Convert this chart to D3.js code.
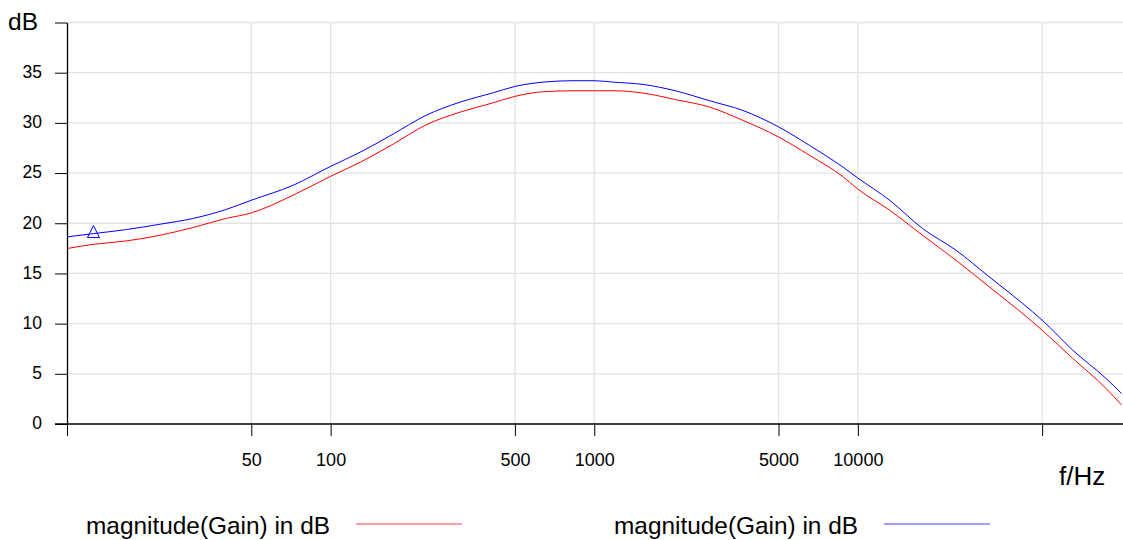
<!DOCTYPE html>
<html>
<head>
<meta charset="utf-8">
<script src="https://cdn.jsdelivr.net/npm/d3@7"></script>
<style>
  html, body { margin: 0; padding: 0; background: #fff; }
  svg { display: block; font-family: "Liberation Sans", Arial, sans-serif; }
</style>
</head>
<body>
<svg id="chart" width="1123" height="540"></svg>
<script>
// ---- data ----
const freqs = [10, 12.6, 16.8, 22.5, 30, 40, 50, 72, 100, 130, 173, 230, 310, 410, 500, 640, 830, 1000, 1180, 1530, 2050, 2740, 3660, 5000, 6550, 8770, 10000, 13200, 17600, 23600, 31500, 42200, 50000, 65300, 87300, 100000];
const gainRed = [17.48, 17.9, 18.24, 18.8, 19.57, 20.47, 21.03, 22.79, 24.68, 26.1, 27.9, 29.8, 31.07, 31.97, 32.64, 33.1, 33.2, 33.2, 33.2, 32.97, 32.3, 31.57, 30.25, 28.6, 26.77, 24.65, 23.4, 21.3, 18.8, 16.3, 13.66, 11.0, 9.35, 6.54, 3.55, 1.9];
const gainBlue = [18.64, 18.97, 19.37, 19.9, 20.47, 21.36, 22.29, 23.78, 25.67, 27.1, 28.9, 30.75, 32.07, 32.97, 33.63, 34.06, 34.2, 34.2, 34.06, 33.83, 33.17, 32.2, 31.24, 29.6, 27.76, 25.6, 24.5, 22.29, 19.47, 17.3, 14.66, 12.0, 10.35, 7.36, 4.54, 3.05];
const markerFreq = [12.6];
const markerGain = [18.97];
const xTicks = [10, 50, 100, 500, 1000, 5000, 10000, 50000];
const xTickLabels = ["", "50", "100", "500", "1000", "5000", "10000", ""];
const yTicks = [0, 5, 10, 15, 20, 25, 30, 35, 40];
const yTickLabels = ["0", "5", "10", "15", "20", "25", "30", "35", ""];
const gridX = [50, 100, 500, 1000, 5000, 10000, 50000];
const legendNames = ["magnitude(Gain) in dB", "magnitude(Gain) in dB"];
const seriesColors = ["#ff0000", "#0000ff"];

// ---- scales ----
const svg = d3.select("#chart");
const x = d3.scaleLog().domain([10, 100000]).range([67, 1121.5]);
const y = d3.scaleLinear().domain([0, 40]).range([424, 22.5]);

// ---- grid ----
const grid = svg.append("g");
grid.selectAll("line.h").data(yTicks.slice(1)).join("line")
  .attr("x1", 67).attr("x2", 1123)
  .attr("y1", d => y(d)).attr("y2", d => y(d))
  .attr("stroke", "#e3e3e3").attr("stroke-width", 1.3);
grid.selectAll("line.v").data(gridX).join("line")
  .attr("x1", d => x(d)).attr("x2", d => x(d))
  .attr("y1", y(40)).attr("y2", y(0))
  .attr("stroke", "#e3e3e3").attr("stroke-width", 1.3);

// ---- series ----
const series = [gainRed, gainBlue];
series.forEach((vals, i) => {
  const line = d3.line().curve(d3.curveMonotoneX)
    .x((d, j) => x(freqs[j])).y(d => y(d));
  svg.append("path").datum(vals)
    .attr("d", line)
    .attr("fill", "none")
    .attr("stroke", seriesColors[i])
    .attr("stroke-width", 1);
});

// marker triangle on blue series
svg.selectAll("path.marker").data(markerFreq).join("path")
  .attr("class", "marker")
  .attr("transform", (d, i) => `translate(${x(d)},${y(markerGain[i])})`)
  .attr("d", "M0,-8L6,4L-6,4Z")
  .attr("fill", "none").attr("stroke", "#0000ff").attr("stroke-width", 1);

// ---- axes ----
const yAxis = d3.axisLeft(y).tickValues(yTicks)
  .tickFormat((d, i) => yTickLabels[i]).tickSize(12).tickSizeOuter(0).tickPadding(13);
const gy = svg.append("g").attr("transform", "translate(67,0)").call(yAxis);
gy.selectAll("text").attr("font-size", 17.5).attr("fill", "#000")
  .attr("font-family", "Liberation Sans, Arial, sans-serif").attr("dy", "0.28em");
gy.selectAll("line").attr("stroke", "#000");
gy.select(".domain").attr("stroke", "#000").attr("stroke-width", 1.3);

const xAxis = d3.axisBottom(x).tickValues(xTicks)
  .tickFormat((d, i) => xTickLabels[i]).tickSize(12).tickSizeOuter(0);
const gx = svg.append("g").attr("transform", `translate(0,${y(0)})`).call(xAxis);
gx.selectAll("text").attr("font-size", 18).attr("fill", "#000")
  .attr("font-family", "Liberation Sans, Arial, sans-serif")
  .attr("y", 42).attr("dy", 0);
gx.selectAll("line").attr("stroke", "#000");
gx.select(".domain").attr("stroke", "none");
gx.append("line").attr("x1", 55).attr("x2", 1123).attr("y1", 0).attr("y2", 0)
  .attr("stroke", "#000").attr("stroke-width", 1.3);

// axis titles
svg.append("text").attr("x", 8).attr("y", 30).attr("font-size", 24.5).attr("fill", "#000").text("dB");
svg.append("text").attr("x", 1059).attr("y", 485).attr("font-size", 26).attr("fill", "#000").text("f/Hz");

// ---- legend ----
const legendX = [86, 614];
const leg = svg.append("g");
legendNames.forEach((name, i) => {
  leg.append("text").attr("x", legendX[i]).attr("y", 534)
    .attr("font-size", 24.4).attr("fill", "#000").text(name);
  leg.append("line").attr("x1", legendX[i] + 270).attr("x2", legendX[i] + 376)
    .attr("y1", 524).attr("y2", 524)
    .attr("stroke", seriesColors[i]).attr("stroke-width", 1).attr("opacity", 0.75);
});
</script>
</body>
</html>
